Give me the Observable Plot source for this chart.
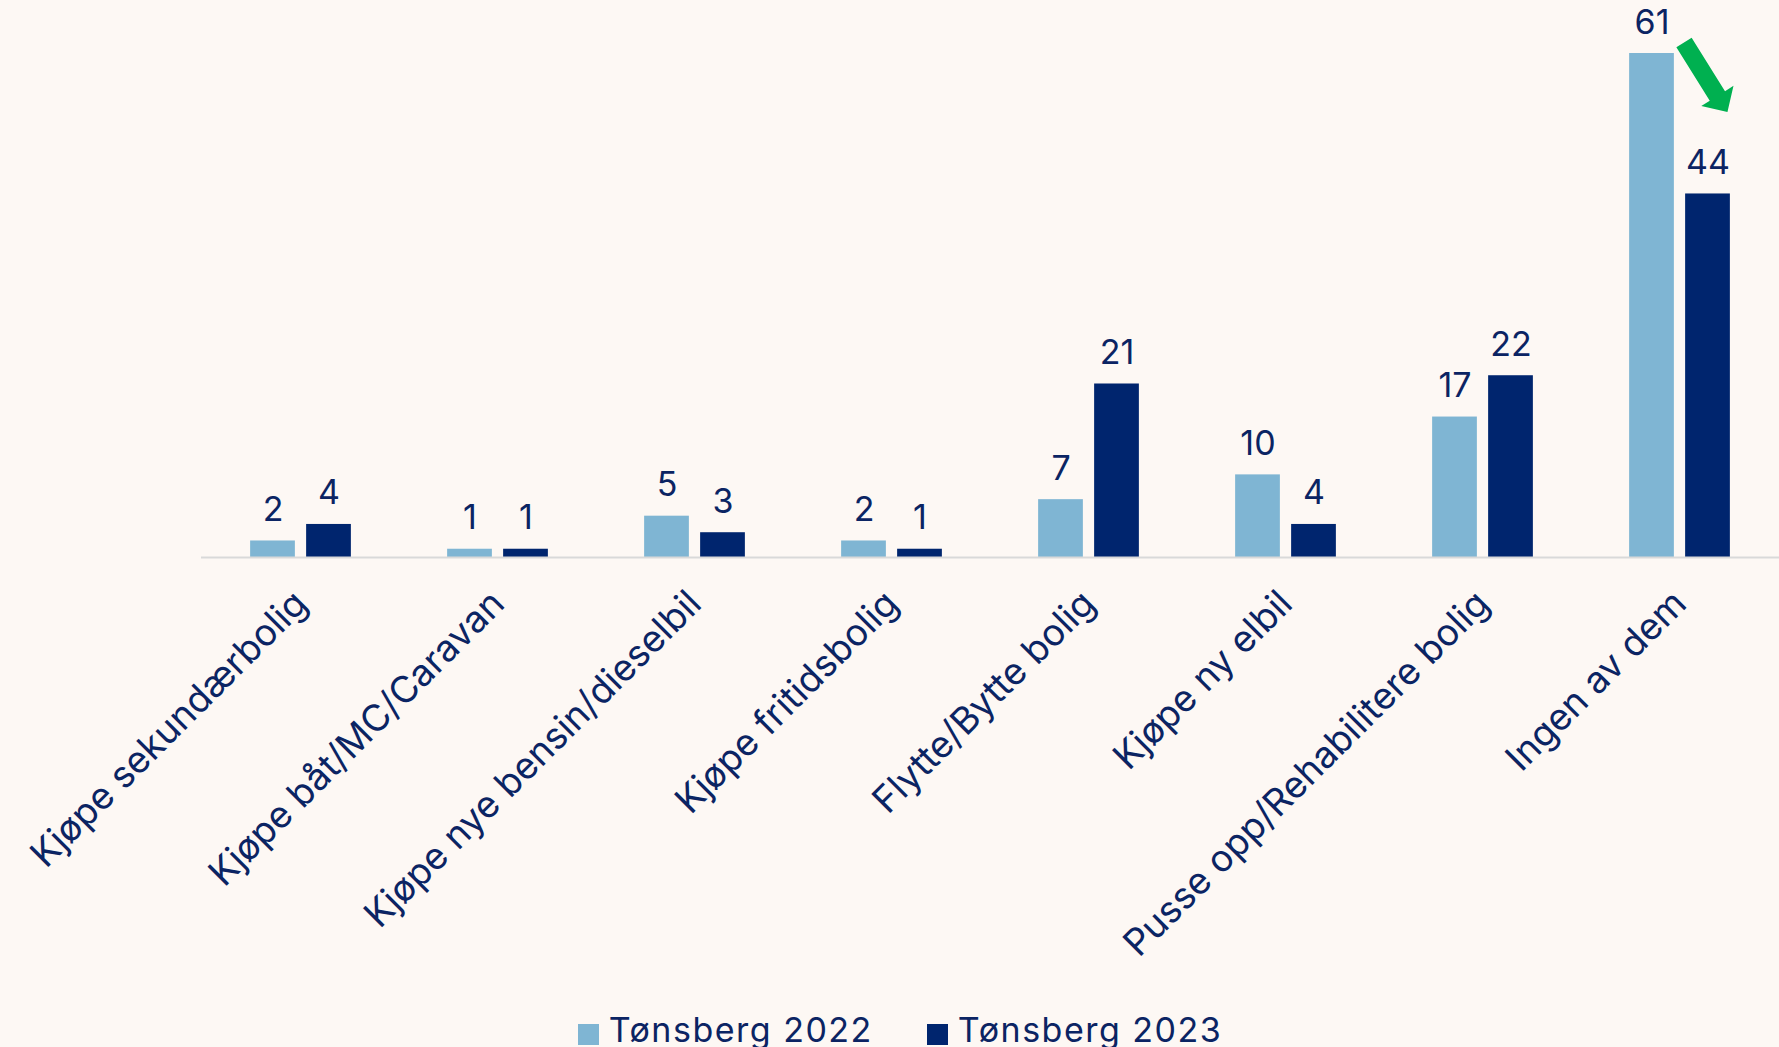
<!DOCTYPE html>
<html>
<head>
<meta charset="utf-8">
<script src="https://cdn.jsdelivr.net/npm/d3@7"></script>
<script src="https://cdn.jsdelivr.net/npm/@observablehq/plot@0.6"></script>
<style>
  html, body { margin: 0; padding: 0; background: #fdf8f4; overflow: hidden; }
  body { width: 1779px; height: 1047px; font-family: Inter, "Noto Sans", sans-serif; color: #0b2463; }
  #legend { display: flex; justify-content: center; padding-left: 21px; gap: 54px;
            font-size: 34px; letter-spacing: 1.5px; line-height: 40px; margin-top: 0; }
  .item { display: flex; align-items: center; white-space: nowrap; }
  .sw { width: 21px; height: 21px; margin-right: 10px; margin-top: 8px; }
</style>
</head>
<body>
<div id="chart"></div>
<div id="legend"></div>
<script>
const categories = [
  "Kjøpe sekundærbolig",
  "Kjøpe båt/MC/Caravan",
  "Kjøpe nye bensin/dieselbil",
  "Kjøpe fritidsbolig",
  "Flytte/Bytte bolig",
  "Kjøpe ny elbil",
  "Pusse opp/Rehabilitere bolig",
  "Ingen av dem"
];
const seriesNames = ["Tønsberg 2022", "Tønsberg 2023"];
const values2022 = [2, 1, 5, 2, 7, 10, 17, 61];
const values2023 = [4, 1, 3, 1, 21, 4, 22, 44];
const seriesColors = ["#7fb5d3", "#00256e"];
const textColor = "#0b2463";

const rows2022 = categories.map((c, i) => ({category: c, series: seriesNames[0], value: values2022[i]}));
const rows2023 = categories.map((c, i) => ({category: c, series: seriesNames[1], value: values2023[i]}));
// annotation: arrow on the last category, starting at the 2022 bar top
const arrowRows = [{category: categories[categories.length - 1], value: values2022[values2022.length - 1]}];

const arrowShape = {
  draw(context, l) {
    const hw = 9, hh = 19, hl = 19;
    context.moveTo(-hw, 0);
    context.lineTo(-hw, -(l - hl));
    context.lineTo(-hh, -(l - hl));
    context.lineTo(0, -l);
    context.lineTo(hh, -(l - hl));
    context.lineTo(hw, -(l - hl));
    context.lineTo(hw, 0);
    context.closePath();
  }
};

const chart = Plot.plot({
  width: 1779,
  height: 1010,
  marginLeft: 201,
  marginRight: 0,
  marginTop: 53,
  marginBottom: 453,
  style: {background: "#fdf8f4", fontFamily: "Inter, 'Noto Sans', sans-serif", color: textColor},
  x: {domain: categories, padding: 0, label: null},
  y: {domain: [0, 61], axis: null},
  marks: [
    Plot.barY(rows2022, {x: "category", y: "value", fill: seriesColors[0], insetLeft: 48.125, insetRight: 104.125}),
    Plot.barY(rows2023, {x: "category", y: "value", fill: seriesColors[1], insetLeft: 104.125, insetRight: 48.125}),
    Plot.ruleY([0], {stroke: "#d9d9d9", strokeWidth: 2}),
    Plot.text(rows2022, {x: "category", y: "value", text: d => String(d.value), dx: -28, dy: -20, lineAnchor: "bottom", fill: textColor, fontSize: 34}),
    Plot.text(rows2023, {x: "category", y: "value", text: d => String(d.value), dx: 28, dy: -20, lineAnchor: "bottom", fill: textColor, fontSize: 34}),
    Plot.axisX({tickRotate: -45, tickSize: 0, tickPadding: 40, fontSize: 37, fill: textColor, label: null, style: {letterSpacing: "2.4px"}}),
    Plot.vector(arrowRows, {x: "category", y: "value", dx: 4, dy: -11, rotate: 148, length: 82, anchor: "start", shape: arrowShape, fill: "#00b050", stroke: "none"})
  ]
});
document.getElementById("chart").appendChild(chart);

const legend = document.getElementById("legend");
seriesNames.forEach((name, i) => {
  const item = document.createElement("div");
  item.className = "item";
  const sw = document.createElement("span");
  sw.className = "sw";
  sw.style.background = seriesColors[i];
  const label = document.createElement("span");
  label.textContent = name;
  item.appendChild(sw);
  item.appendChild(label);
  legend.appendChild(item);
});
</script>
</body>
</html>
